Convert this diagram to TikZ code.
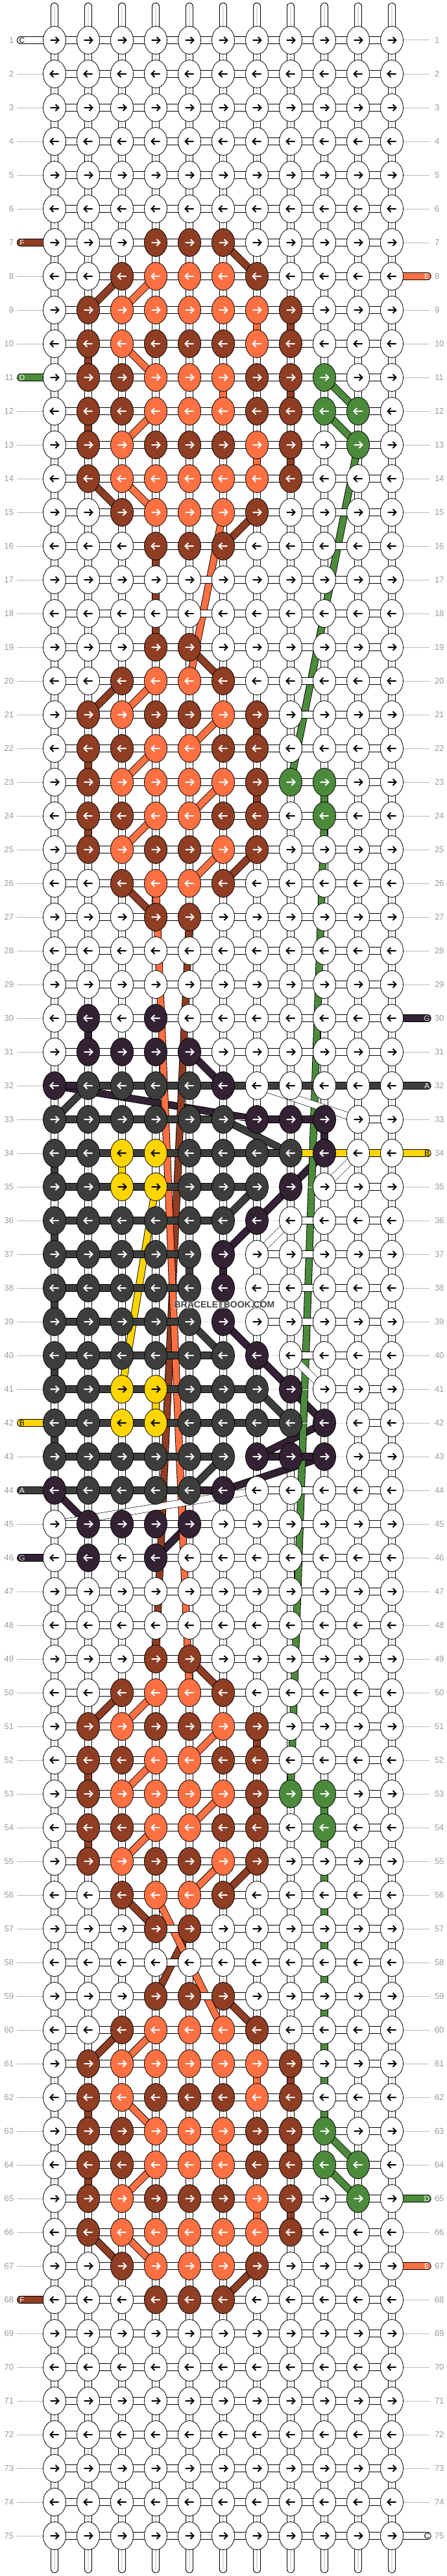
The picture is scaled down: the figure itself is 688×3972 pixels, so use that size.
\documentclass[tikz,border=0pt]{standalone}
\usepackage{fontspec}
\setmainfont{Liberation Sans}
\usetikzlibrary{shapes.geometric}
\definecolor{cF}{RGB}{143,61,35}
\definecolor{cE}{RGB}{255,112,67}
\definecolor{cD}{RGB}{76,139,60}
\definecolor{cG}{RGB}{51,34,51}
\definecolor{cA}{RGB}{60,62,60}
\definecolor{cB}{RGB}{255,213,0}
\definecolor{rowgray}{RGB}{185,185,185}
\definecolor{labgray}{RGB}{155,155,155}
\definecolor{coregray}{RGB}{222,222,222}
\pgfdeclarelayer{gaps}\pgfdeclarelayer{verts}\pgfdeclarelayer{stra}\pgfdeclarelayer{strb}\pgfdeclarelayer{strc}\pgfdeclarelayer{horiz}
\pgfsetlayers{gaps,verts,stra,strb,strc,horiz,main}
\tikzset{
 knot/.style={ellipse,draw=black,line width=.8pt,minimum width=35pt,minimum height=43pt,inner sep=0pt,outer sep=0pt},
 knotW/.style={fill=white}, knotF/.style={fill=cF}, knotE/.style={fill=cE}, knotD/.style={fill=cD},
 knotG/.style={fill=cG}, knotA/.style={fill=cA}, knotB/.style={fill=cB},
 arrowline/.style={line width=2pt,miter limit=10},
 arrW/.style={draw=black}, arrB/.style={draw=black}, arrF/.style={draw=white}, arrE/.style={draw=white},
 arrD/.style={draw=white}, arrG/.style={draw=white}, arrA/.style={draw=white},
 thread/.style={draw=black,line width=.9pt,double distance=9.6pt,double=#1},
 hlW/.style={thread=white}, hlA/.style={thread=cA}, hlG/.style={thread=cG}, hlB/.style={thread=cB},
 hlX/.style={draw=coregray,line width=1pt},
 vconn/.style={thread=white},
 vcore/.style={draw=coregray,line width=2.4pt},
 whitestrand/.style={draw=black,line width=.6pt,double distance=10pt,double=white},
 endstub/.style={thread=white,line cap=round},
 stubC/.style={thread=white,line cap=round}, stubF/.style={thread=cF,line cap=round}, stubE/.style={thread=cE,line cap=round},
 stubD/.style={thread=cD,line cap=round}, stubG/.style={thread=cG,line cap=round}, stubA/.style={thread=cA,line cap=round},
 stubB/.style={thread=cB,line cap=round},
 rowlab/.style={inner sep=0pt,outer sep=0pt,text=labgray,font=\fontsize{13}{13}\selectfont},
 rowline/.style={draw=rowgray,line width=1pt},
 stubtxt/.style={inner sep=0pt,outer sep=0pt,font=\fontsize{12}{12}\selectfont},
 txtC/.style={text=black}, txtB/.style={text=black}, txtF/.style={text=white}, txtE/.style={text=white},
 txtD/.style={text=white}, txtG/.style={text=white!85!black}, txtA/.style={text=white},
 watermark/.style={font=\fontsize{14}{14}\selectfont\bfseries,text=black!72,fill=white,fill opacity=.35,text opacity=1,inner sep=1pt}
}
\newcount\rowc \newcount\colc
\def\placeknot#1{\edef\kr{\the\rowc}\edef\kc{\the\colc}%
 \node[knot,knot#1] (n-\kr-\kc) at ({84+52*(\kc-1)},{-62-52*(\kr-1)}) {};%
 \ifodd\rowc\def\sg{1}\else\def\sg{-1}\fi
 \draw[arrowline,arr#1] (n-\kr-\kc.center) ++({-6.5*\sg},0) -- ++({13*\sg},0) ++({-5*\sg},5) -- ++({5*\sg},-5) -- ++({-5*\sg},-5);}
\def\kparse#1{\ifx#1.\else\global\advance\colc by 1\relax\placeknot{#1}\expandafter\kparse\fi}
\def\knotrow#1#2{\global\rowc=#1\relax\global\colc=0\relax\kparse#2.}
\def\hlink#1{\edef\kr{\the\rowc}\edef\kc{\the\colc}\pgfmathtruncatemacro\kd{\kc+1}%
 \draw[hl#1] (n-\kr-\kc.center) -- (n-\kr-\kd.center);}
\def\hparse#1{\ifx#1.\else\global\advance\colc by 1\relax\hlink{#1}\expandafter\hparse\fi}
\def\linkrow#1#2{\global\rowc=#1\relax\global\colc=0\relax\hparse#2.}
\begin{document}
\begin{tikzpicture}[x=1pt,y=1pt]
\useasboundingbox (0,0) rectangle (688,-3972);
\begin{pgfonlayer}{gaps}
\fill[white] (0,0) rectangle (688,-3972);
\end{pgfonlayer}
% knots, row by row
\foreach \ra in {1,...,6}{\knotrow{\ra}{WWWWWWWWWWW}}
\knotrow{7}{WWWFFFWWWWW}
\knotrow{8}{WWFEEEFWWWW}
\knotrow{9}{WFEEEEEFWWW}
\knotrow{10}{WFEFFFEFWWW}
\knotrow{11}{WFFEEEFFDWW}
\knotrow{12}{WFFEEEFFDDW}
\knotrow{13}{WFEFFFEFWDW}
\knotrow{14}{WFEEEEEFWWW}
\knotrow{15}{WWFEEEFWWWW}
\knotrow{16}{WWWFFFWWWWW}
\knotrow{17}{WWWWWWWWWWW}
\knotrow{18}{WWWWWWWWWWW}
\knotrow{19}{WWWFFWWWWWW}
\knotrow{20}{WWFEEFWWWWW}
\knotrow{21}{WFEFFEFWWWW}
\knotrow{22}{WFFEEFFWWWW}
\knotrow{23}{WFEEEEFDDWW}
\knotrow{24}{WFFEEFFWDWW}
\knotrow{25}{WFEFFEFWWWW}
\knotrow{26}{WWFEEFWWWWW}
\knotrow{27}{WWWFFWWWWWW}
\knotrow{28}{WWWWWWWWWWW}
\knotrow{29}{WWWWWWWWWWW}
\knotrow{30}{WGWGWWWWWWW}
\knotrow{31}{WGGGGWWWWWW}
\knotrow{32}{GAAAAGWWWWW}
\knotrow{33}{AAAAAAGGGWW}
\knotrow{34}{AABBAAAAGWW}
\knotrow{35}{AABBAAAGWWW}
\knotrow{36}{AAAAAAGWWWW}
\knotrow{37}{AAAAAGWWWWW}
\knotrow{38}{AAAAAGWWWWW}
\knotrow{39}{AAAAAGWWWWW}
\knotrow{40}{AAAAAAGWWWW}
\knotrow{41}{AABBAAAGWWW}
\knotrow{42}{AABBAAAAGWW}
\knotrow{43}{AAAAAAGGGWW}
\knotrow{44}{GAAAAGWWWWW}
\knotrow{45}{WGGGGWWWWWW}
\knotrow{46}{WGWGWWWWWWW}
\knotrow{47}{WWWWWWWWWWW}
\knotrow{48}{WWWWWWWWWWW}
\knotrow{49}{WWWFFWWWWWW}
\knotrow{50}{WWFEEFWWWWW}
\knotrow{51}{WFEFFEFWWWW}
\knotrow{52}{WFFEEFFWWWW}
\knotrow{53}{WFEEEEFDDWW}
\knotrow{54}{WFFEEFFWDWW}
\knotrow{55}{WFEFFEFWWWW}
\knotrow{56}{WWFEEFWWWWW}
\knotrow{57}{WWWFFWWWWWW}
\knotrow{58}{WWWWWWWWWWW}
\knotrow{59}{WWWFFFWWWWW}
\knotrow{60}{WWFEEEFWWWW}
\knotrow{61}{WFEEEEEFWWW}
\knotrow{62}{WFEFFFEFWWW}
\knotrow{63}{WFFEEEFFDWW}
\knotrow{64}{WFFEEEFFDDW}
\knotrow{65}{WFEFFFEFWDW}
\knotrow{66}{WFEEEEEFWWW}
\knotrow{67}{WWFEEEFWWWW}
\knotrow{68}{WWWFFFWWWWW}
\foreach \ra in {69,...,75}{\knotrow{\ra}{WWWWWWWWWWW}}
% row numbers
\foreach \ra in {1,...,75}{
 \node[rowlab,anchor=east] (ll-\ra) at (21,{-62-52*(\ra-1)}) {\ra};
 \node[rowlab,anchor=west] (lr-\ra) at (670,{-62-52*(\ra-1)}) {\ra};
}
\begin{pgfonlayer}{gaps}
\foreach \ra in {2,...,6,8,9,10,12,13,...,41,43,45,47,48,...,67,69,70,...,75}{
 \coordinate (cl-\ra) at (26,{-62-52*(\ra-1)});
 \draw[rowline] (cl-\ra) -- (n-\ra-1.center);
}
\foreach \ra in {1,...,7,9,10,...,29,31,33,35,36,...,64,66,68,69,...,74}{
 \coordinate (cr-\ra) at (662,{-62-52*(\ra-1)});
 \draw[rowline] (n-\ra-11.center) -- (cr-\ra);
}
\end{pgfonlayer}
% vertical links
\begin{pgfonlayer}{verts}
\foreach \ra in {1,...,74}{
 \pgfmathtruncatemacro\rb{\ra+1}
 \foreach \ca in {1,...,11}{
  \draw[vconn] (n-\ra-\ca.center) -- (n-\rb-\ca.center);
  \draw[vcore] (n-\ra-\ca.center) -- (n-\rb-\ca.center);
 }
}
\foreach \ca in {1,...,11}{
 \coordinate (t-\ca) at ({84+52*(\ca-1)},-9.75);
 \coordinate (b-\ca) at ({84+52*(\ca-1)},-3961.75);
 \draw[endstub] (n-1-\ca.center) -- (t-\ca);
 \draw[vcore] (n-1-\ca.center) -- (t-\ca);
 \draw[endstub] (n-75-\ca.center) -- (b-\ca);
 \draw[vcore] (n-75-\ca.center) -- (b-\ca);
}
\end{pgfonlayer}
% long threads
\begin{pgfonlayer}{stra}
\foreach \pa/\pb/\pc/\pd in {30/2/31/2,31/5/32/6,32/1/33/7,33/9/34/9,34/9/35/8,35/8/36/7,36/7/37/6,37/6/38/6,39/6/40/7,40/7/41/8,41/8/42/9,42/9/43/7,43/9/44/6,44/1/45/2,45/5/46/4}
 \draw[thread=cG] (n-\pa-\pb.center) -- (n-\pc-\pd.center);
\foreach \pa/\pb/\pc/\pd in {32/2/33/1,33/6/34/8,34/1/35/1,35/7/36/6,36/1/37/1,37/5/38/5,38/1/39/1,39/5/40/6,40/1/41/1,41/7/42/8,42/1/43/1,43/6/44/5}
 \draw[thread=cA] (n-\pa-\pb.center) -- (n-\pc-\pd.center);
\end{pgfonlayer}
\begin{pgfonlayer}{strb}
\foreach \pa/\pb/\pc/\pd in {7/6/8/7,8/3/9/2,14/2/15/3,15/7/16/6,16/4/19/4,19/5/20/6,20/3/21/2,25/7/26/6,26/3/27/4,27/5/49/4,49/5/50/6,50/3/51/2,55/7/56/6,56/3/57/4,57/5/59/4,59/6/60/7,60/3/61/2,66/2/67/3,67/7/68/6,9/8/10/8,10/2/11/2,11/8/12/8,12/2/13/2,13/8/14/8,21/7/22/7,22/2/23/2,23/7/24/7,24/2/25/2,51/7/52/7,52/2/53/2,53/7/54/7,54/2/55/2,61/8/62/8,62/2/63/2,63/8/64/8,64/2/65/2,65/8/66/8}
 \draw[thread=cF] (n-\pa-\pb.center) -- (n-\pc-\pd.center);
\foreach \pa/\pb/\pc/\pd in {9/7/10/7,11/6/12/6,13/7/14/7,61/7/62/7,63/6/64/6,65/7/66/7,8/4/9/3,10/3/11/4,12/4/13/3,14/3/15/4,15/6/20/5,20/4/21/3,21/6/22/5,22/4/23/3,23/6/24/5,24/4/25/3,25/6/26/5,26/4/50/5,50/4/51/3,51/6/52/5,52/4/53/3,53/6/54/5,54/4/55/3,55/6/56/5,56/4/60/6,60/4/61/3,62/3/63/4,64/4/65/3,66/3/67/4}
 \draw[thread=cE] (n-\pa-\pb.center) -- (n-\pc-\pd.center);
\foreach \pa/\pb/\pc/\pd in {11/9/12/10,12/9/13/10,13/10/23/8,23/9/24/9,24/9/53/8,53/9/63/9,63/9/64/10,64/9/65/10}
 \draw[thread=cD] (n-\pa-\pb.center) -- (n-\pc-\pd.center);
\foreach \pa/\pb/\pc/\pd in {34/3/35/3,35/4/41/3,41/4/42/4}
 \draw[thread=cB] (n-\pa-\pb.center) -- (n-\pc-\pd.center);
\end{pgfonlayer}
\begin{pgfonlayer}{strc}
\foreach \pa/\pb/\pc/\pd in {32/7/33/10,34/10/35/9,36/8/37/7,40/8/41/9,44/7/45/1}
 \draw[whitestrand] (n-\pa-\pb.center) -- (n-\pc-\pd.center);
\end{pgfonlayer}
% horizontal links and end threads
\begin{pgfonlayer}{horiz}
\foreach \ra in {1,...,31,45,46,...,75}{\linkrow{\ra}{WWWWWWWWWW}}
\linkrow{32}{GAAAAAAAAA}
\linkrow{33}{AAAAAXGGXW}
\linkrow{34}{AAAAAAABBB}
\linkrow{35}{AAAAAAXXWW}
\linkrow{36}{AAAAAXXWWW}
\linkrow{37}{AAAAXXWWWW}
\linkrow{38}{AAAAXXWWWW}
\linkrow{39}{AAAAXXWWWW}
\linkrow{40}{AAAAAXXWWW}
\linkrow{41}{AAAAAAXXWW}
\linkrow{42}{AAAAAAAXXW}
\linkrow{43}{AAAAAXGGXW}
\linkrow{44}{AAAAGXWWWW}
\foreach \ra/\ta in {1/C,7/F,11/D,42/B,44/A,46/G,68/F}{
 \coordinate (sl-\ra) at (31.75,{-62-52*(\ra-1)});
 \draw[stub\ta] (n-\ra-1.center) -- (sl-\ra);
}
\foreach \ra/\ta in {8/E,30/G,32/A,34/B,65/D,67/E,75/C}{
 \coordinate (sr-\ra) at (659,{-62-52*(\ra-1)});
 \draw[stub\ta] (n-\ra-11.center) -- (sr-\ra);
}
\end{pgfonlayer}
\foreach \ra/\ta in {1/C,7/F,11/D,42/B,44/A,46/G,68/F}{
 \node[stubtxt,txt\ta] (tl-\ra) at (34,{-62-52*(\ra-1)}) {\ta};
}
\foreach \ra/\ta in {8/E,30/G,32/A,34/B,65/D,67/E,75/C}{
 \node[stubtxt,txt\ta] (tr-\ra) at (658,{-62-52*(\ra-1)}) {\ta};
}
\node[watermark] (wm) at (346,-2012) {BRACELETBOOK.COM};
\end{tikzpicture}
\end{document}
